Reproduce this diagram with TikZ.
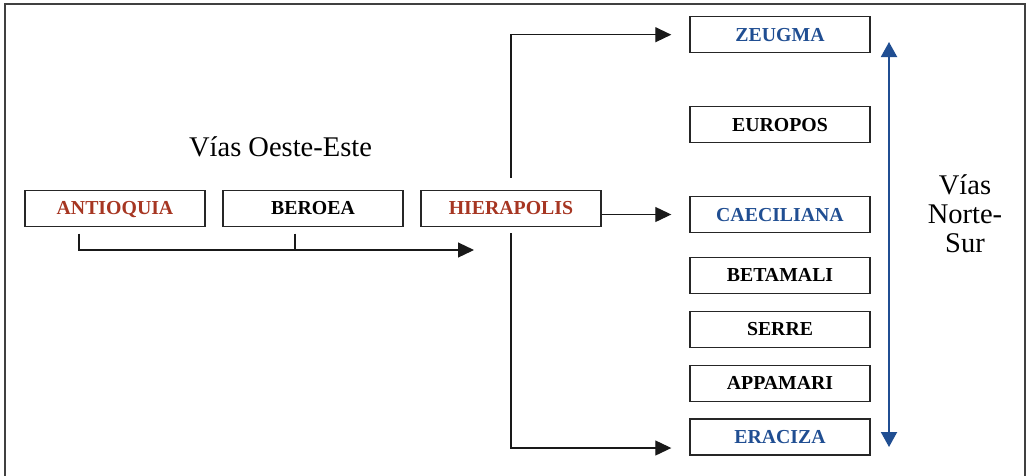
\documentclass[tikz,border=0pt]{standalone}
\usepackage{fontspec}
\setmainfont{Liberation Serif}
\usetikzlibrary{arrows.meta}
\definecolor{viared}{RGB}{166,54,34}
\definecolor{viablue}{RGB}{32,78,146}

\begin{document}
\begin{tikzpicture}[x=1pt,y=-1pt,
    ciudad/.style={draw=black!85,line width=1.4pt,minimum width=180pt,minimum height=36pt,
      inner sep=0pt,text height=13pt,text depth=0pt,font=\fontsize{19.8}{20}\selectfont\bfseries},
    via/.style={font=\fontsize{28.5}{29}\selectfont},
    flecha/.style={line width=1.2pt,black!90,-{Triangle[length=16pt,width=15pt]}},
    ns/.style={line width=2pt,viablue,-{Triangle[length=15pt,width=16pt]}}]
  \useasboundingbox (0,0) rectangle (1027,475);
  \draw[black!75,line width=1.5pt] (5,490) |- (1025,4) -- (1025,490);

  % oeste-este
  \node[ciudad,text=viared] (antioquia) at (115,208.3) {ANTIOQUIA};
  \node[ciudad] (beroea) at (313,208.3) {BEROEA};
  \node[ciudad,text=viared] (hierapolis) at (511,208.3) {HIERAPOLIS};
  \node[via,anchor=base] (oe) at (280.5,156.7) {Vías Oeste-Este};

  % norte-sur
  \node[ciudad,text=viablue] (zeugma) at (780,34.7) {ZEUGMA};
  \node[ciudad] (europos) at (780,124.7) {EUROPOS};
  \node[ciudad,text=viablue] (caeciliana) at (780,214.5) {CAECILIANA};
  \node[ciudad] (betamali) at (780,275.3) {BETAMALI};
  \node[ciudad] (serre) at (780,329.2) {SERRE};
  \node[ciudad] (appamari) at (780,383.2) {APPAMARI};
  \node[ciudad,text=viablue] (eraciza) at (780,437) {ERACIZA};
  \node[via,align=center,anchor=north,inner sep=0pt] (nsur) at (965,174) {Vías\\Norte-\\Sur};

  \coordinate (fin) at (474,250);
  \coordinate (nsmid) at (889,236);
  \coordinate (nstop) at (889,42);
  \coordinate (nsbot) at (889,447);

  \draw[flecha] ([xshift=-36pt,yshift=-6.5pt]antioquia.south) |- (fin);
  \draw[line width=1.2pt,black!90] ([xshift=-18pt,yshift=-6.5pt]beroea.south) -- ([xshift=-18pt]beroea.south |- fin);
  \draw[flecha] ([yshift=12pt]hierapolis.north) |- ([xshift=-18pt]zeugma.west);
  \draw[flecha] (hierapolis.east |- caeciliana) -- ([xshift=-18pt]caeciliana.west);
  \draw[flecha] ([yshift=-6pt]hierapolis.south) |- ([xshift=-18pt,yshift=-11pt]eraciza.west);

  \draw[ns] (nsmid) -- (nstop);
  \draw[ns] (nsmid) -- (nsbot);
\end{tikzpicture}
\end{document}
